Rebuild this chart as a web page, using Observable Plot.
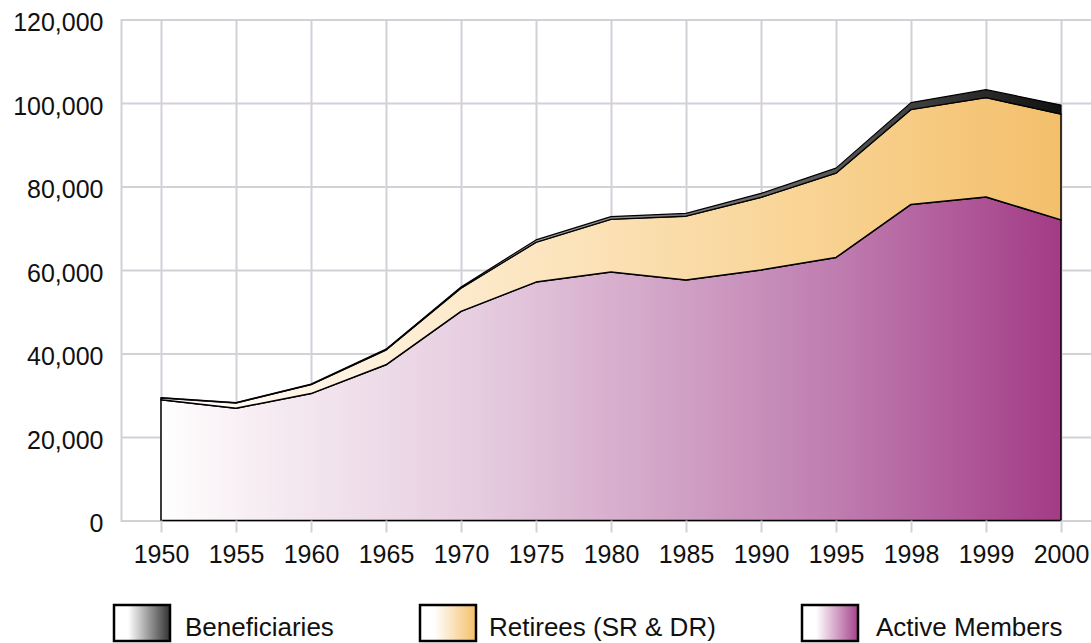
<!DOCTYPE html>
<html>
<head>
<meta charset="utf-8">
<script src="https://cdn.jsdelivr.net/npm/d3@7"></script>
<script src="https://cdn.jsdelivr.net/npm/@observablehq/plot@0.6"></script>
<style>
  html, body { margin: 0; padding: 0; background: white; overflow: hidden; }
  #wrap { position: relative; width: 1091px; height: 643px; font-family: "Liberation Sans", Arial, sans-serif; }
  #legend { display: block; }
</style>
</head>
<body>
<div id="wrap"></div>
<script>
const years = ["1950","1955","1960","1965","1970","1975","1980","1985","1990","1995","1998","1999","2000"];
const activeMembers = [28900, 26900, 30400, 37300, 50100, 57100, 59500, 57600, 60000, 63000, 75700, 77500, 72000];
const retirees = [450, 1250, 2150, 3550, 5550, 9550, 12650, 15300, 17400, 20200, 22750, 23800, 25350];
const beneficiaries = [100, 100, 150, 200, 300, 550, 650, 650, 950, 1200, 1650, 1900, 2150];
const yTicks = [0, 20000, 40000, 60000, 80000, 100000, 120000];
const seriesNames = ["Beneficiaries", "Retirees (SR & DR)", "Active Members"];

const table = years.map((year, i) => {
  const a = activeMembers[i], r = retirees[i], b = beneficiaries[i];
  return {year, a0: 0, a1: a, r0: a, r1: a + r, b0: a + r, b1: a + r + b};
});

const svgNS = "http://www.w3.org/2000/svg";
const gradients = [
  ["gActive", [[0, "#ffffff"], [0.1, "#f7eef3"], [0.35, "#e6cde0"], [0.55, "#d3a6c8"], [0.75, "#bf7db0"], [1, "#a33b86"]]],
  ["gRetirees", [[0, "#ffffff"], [0.15, "#fff5e6"], [0.4, "#fce6c2"], [0.7, "#f9d597"], [1, "#f3bf6b"]]],
  ["gBenef", [[0, "#ffffff"], [0.4, "#a0a0a0"], [0.6, "#777777"], [0.8, "#4a4a4a"], [1, "#111111"]]]
];
function defsMark() {
  const defs = document.createElementNS(svgNS, "defs");
  for (const [id, stops] of gradients) {
    const lg = document.createElementNS(svgNS, "linearGradient");
    lg.setAttribute("id", id);
    lg.setAttribute("x1", "0"); lg.setAttribute("x2", "1");
    lg.setAttribute("y1", "0"); lg.setAttribute("y2", "0");
    for (const [o, c] of stops) {
      const s = document.createElementNS(svgNS, "stop");
      s.setAttribute("offset", o);
      s.setAttribute("stop-color", c);
      lg.appendChild(s);
    }
    defs.appendChild(lg);
  }
  return defs;
}

const gridColor = "#d4d0d8";
const chart = Plot.plot({
  width: 1091,
  height: 580,
  marginLeft: 121,
  marginRight: 0,
  marginTop: 19.5,
  marginBottom: 59.5,
  style: {background: "white", fontFamily: "'Liberation Sans', Arial, sans-serif", overflow: "visible"},
  x: {type: "point", domain: years, range: [158.5, 1064], padding: 0},
  y: {domain: [0, 120000]},
  marks: [
    defsMark,
    Plot.gridY(yTicks, {stroke: gridColor, strokeOpacity: 1, strokeWidth: 2}),
    Plot.gridX(years, {stroke: gridColor, strokeOpacity: 1, strokeWidth: 2}),
    Plot.frame({anchor: "left", stroke: gridColor, strokeWidth: 2}),
    Plot.areaY(table, {x: "year", y1: "a0", y2: "a1", fill: "url(#gActive)", stroke: "black", strokeWidth: 1.5, strokeLinejoin: "round"}),
    Plot.areaY(table, {x: "year", y1: "r0", y2: "r1", fill: "url(#gRetirees)", stroke: "black", strokeWidth: 1.5, strokeLinejoin: "round"}),
    Plot.areaY(table, {x: "year", y1: "b0", y2: "b1", fill: "url(#gBenef)", stroke: "black", strokeWidth: 1.2, strokeLinejoin: "round"}),
    Plot.axisY(yTicks, {tickFormat: d3.format(","), tickSize: 0, tickPadding: 18, fontSize: 25, fill: "#111", dy: 3}),
    Plot.axisX(years, {tickSize: 12, tickPadding: 12, fontSize: 25, stroke: gridColor, strokeWidth: 2, fill: "#111", label: null})
  ]
});

const wrap = document.getElementById("wrap");
wrap.appendChild(chart);

// legend below the chart
const legendStops = [
  ["lgB", "#ffffff", "#333333"],
  ["lgR", "#ffffff", "#f4bf69"],
  ["lgA", "#ffffff", "#a4428a"]
];
const legendX = [113, 419, 801];
const legendTextX = [185, 489, 876];
const leg = document.createElementNS(svgNS, "svg");
leg.setAttribute("id", "legend");
leg.setAttribute("width", 1091);
leg.setAttribute("height", 63);
const ldefs = document.createElementNS(svgNS, "defs");
legendStops.forEach(([id, c0, c1]) => {
  const lg = document.createElementNS(svgNS, "linearGradient");
  lg.setAttribute("id", id);
  [[0, c0], [0.25, c0], [1, c1]].forEach(([o, c]) => {
    const s = document.createElementNS(svgNS, "stop");
    s.setAttribute("offset", o); s.setAttribute("stop-color", c);
    lg.appendChild(s);
  });
  ldefs.appendChild(lg);
});
leg.appendChild(ldefs);
seriesNames.forEach((name, i) => {
  const r = document.createElementNS(svgNS, "rect");
  r.setAttribute("x", legendX[i] + 1);
  r.setAttribute("y", 25);
  r.setAttribute("width", 56);
  r.setAttribute("height", 36);
  r.setAttribute("fill", `url(#${legendStops[i][0]})`);
  r.setAttribute("stroke", "black");
  r.setAttribute("stroke-width", 2.5);
  leg.appendChild(r);
  const t = document.createElementNS(svgNS, "text");
  t.setAttribute("x", legendTextX[i]);
  t.setAttribute("y", 56);
  t.setAttribute("font-size", 26);
  t.setAttribute("font-family", "'Liberation Sans', Arial, sans-serif");
  t.setAttribute("fill", "#111");
  t.textContent = name;
  leg.appendChild(t);
});
wrap.appendChild(leg);
</script>
</body>
</html>
